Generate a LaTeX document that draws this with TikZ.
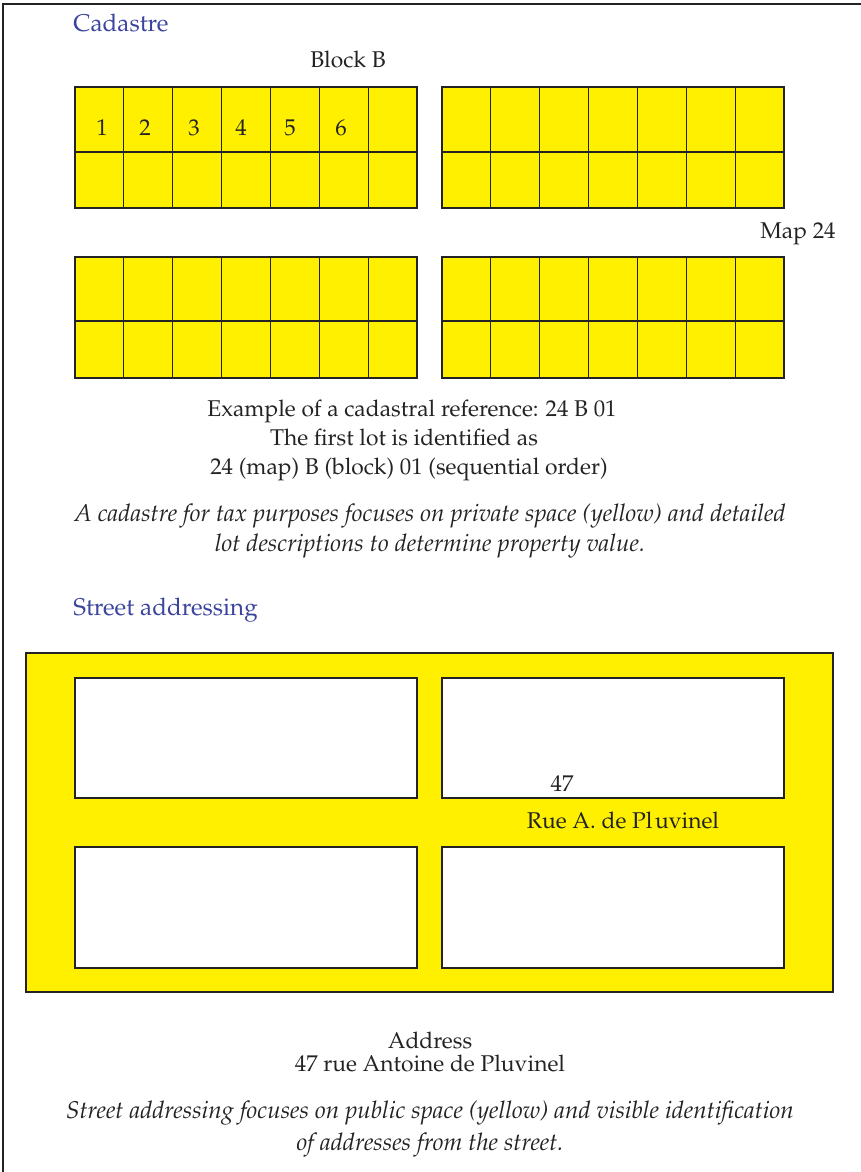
\documentclass[tikz,border=0pt]{standalone}
\usepackage[T1]{fontenc}
\usepackage{mathpazo}
\definecolor{lotyellow}{RGB}{255,240,0}
\definecolor{headblue}{RGB}{60,68,158}
\definecolor{inkgray}{RGB}{35,35,35}
\newcommand\lotgrid[3]{% x0, y0, row split offset
  \fill[lotyellow] (#1,#2) rectangle ({#1+342},{#2+121});
  \foreach \i in {1,...,6} \draw[gridline] ({#1+\i*48.857},#2) -- ({#1+\i*48.857},{#2+121});
  \draw[gridline] (#1,{#2+#3}) -- ({#1+342},{#2+#3});
  \draw[gridline] (#1,#2) rectangle ({#1+342},{#2+121});
}
\begin{document}
\begin{tikzpicture}[x=0.5pt,y=-0.5pt,
  gridline/.style={draw=inkgray,line width=0.55pt},
  txt/.style={inner sep=0pt,anchor=base,text=inkgray,font=\fontsize{11.4}{13}\selectfont},
  itxt/.style={txt,font=\fontsize{12.1}{14}\selectfont\itshape},
  head/.style={inner sep=0pt,anchor=base west,text=headblue,font=\fontsize{12.1}{14}\selectfont},
  whitebox/.style={fill=white,draw=inkgray,line width=0.55pt}]
\useasboundingbox (0,0) rectangle (861,1172);
\draw[inkgray,line width=0.9pt] (3,1172) -- (3,4) -- (861,4);

% Cadastre
\node[head] (h1) at (73,32) {Cadastre};
\node[txt] (blockb) at (348,68) {Block B};
\lotgrid{75}{87}{65}
\lotgrid{442}{87}{65}
\lotgrid{75}{257}{64}
\lotgrid{442}{257}{64}
\node[txt] (n1) at (102,135) {1};
\node[txt] (n2) at (145,135) {2};
\node[txt] (n3) at (194,135) {3};
\node[txt] (n4) at (241,135) {4};
\node[txt] (n5) at (290,135) {5};
\node[txt] (n6) at (341,135) {6};
\node[txt] (map) at (798,238) {Map 24};
\node[txt] (ex1) at (412,416) {Example of a cadastral reference: 24 B 01};
\node[txt] (ex2) at (404,445) {The first lot is identified as};
\node[txt] (ex3) at (409,474) {24 (map) B (block) 01 (sequential order)};
\node[itxt] (c1) at (430,521) {A cadastre for tax purposes focuses on private space (yellow) and detailed};
\node[itxt] (c2) at (430,551) {lot descriptions to determine property value.};

% Street addressing
\node[head] (h2) at (73,615) {Street addressing};
\fill[lotyellow] (26,653) rectangle (833,992);
\draw[gridline] (26,653) rectangle (833,992);
\draw[whitebox] (75,678) rectangle (417,798);
\draw[whitebox] (442,678) rectangle (784,798);
\draw[whitebox] (75,847) rectangle (417,968);
\draw[whitebox] (442,847) rectangle (784,968);
\node[txt] (num) at (562,791) {47};
\node[txt] (rue) at (623,828) {Rue A. de Pl\kern1.2pt uvinel};
\node[txt] (ad1) at (430,1048) {Address};
\node[txt] (ad2) at (430,1071) {47 rue Antoine de Pluvinel};
\node[itxt] (s1) at (430,1118) {Street addressing focuses on public space (yellow) and visible identification};
\node[itxt] (s2) at (430,1150) {of addresses from the street.};
\end{tikzpicture}
\end{document}
